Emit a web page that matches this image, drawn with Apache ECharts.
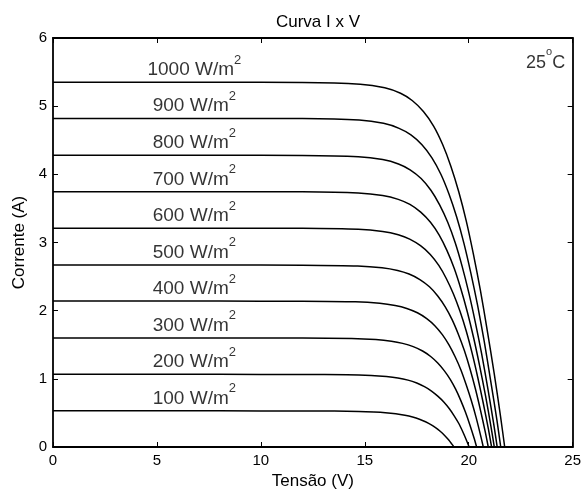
<!DOCTYPE html>
<html><head><meta charset="utf-8">
<script src="https://cdn.jsdelivr.net/npm/echarts@6/dist/echarts.min.js"></script>
<style>html,body{margin:0;padding:0;background:#fff}#chart{width:584px;height:497px}</style>
</head><body><div id="chart"></div>
<script>
// Irradiance levels (W/m^2)
const irradiance = [100, 200, 300, 400, 500, 600, 700, 800, 900, 1000];
// I-V curves: [voltage (V), current (A)]
const curve100 = [[0,0.53],[8,0.53],[12,0.529],[13.54,0.527],[14.71,0.522],[15.44,0.514],[15.99,0.504],[16.49,0.488],[16.93,0.466],[17.3,0.44],[17.63,0.408],[17.92,0.371],[18.18,0.329],[18.42,0.281],[18.64,0.228],[18.84,0.17],[19.03,0.106],[19.19,0.042],[19.29,0]];
const curve200 = [[0,1.066],[8,1.066],[12,1.064],[14.14,1.061],[15.31,1.05],[16.04,1.034],[16.59,1.013],[17.08,0.981],[17.5,0.938],[17.87,0.885],[18.21,0.821],[18.51,0.746],[18.8,0.661],[19.06,0.565],[19.3,0.458],[19.53,0.341],[19.73,0.213],[19.91,0.085],[20.02,0]];
const curve300 = [[0,1.6],[8,1.6],[12,1.598],[14.37,1.592],[15.53,1.576],[16.28,1.552],[16.82,1.52],[17.33,1.472],[17.78,1.408],[18.17,1.328],[18.51,1.232],[18.82,1.12],[19.11,0.992],[19.37,0.848],[19.61,0.688],[19.84,0.512],[20.06,0.32],[20.26,0.128],[20.38,0]];
const curve400 = [[0,2.14],[8,2.14],[12,2.138],[14.55,2.129],[15.72,2.108],[16.46,2.076],[17.02,2.033],[17.53,1.969],[17.98,1.883],[18.38,1.776],[18.73,1.648],[19.05,1.498],[19.34,1.327],[19.62,1.134],[19.87,0.92],[20.12,0.685],[20.36,0.428],[20.57,0.171],[20.7,0]];
const curve500 = [[0,2.67],[8,2.67],[12,2.668],[14.66,2.657],[15.83,2.63],[16.58,2.59],[17.13,2.537],[17.65,2.456],[18.11,2.35],[18.51,2.216],[18.87,2.056],[19.2,1.869],[19.5,1.655],[19.79,1.415],[20.06,1.148],[20.32,0.854],[20.57,0.534],[20.8,0.214],[20.94,0]];
const curve600 = [[0,3.21],[8,3.21],[12,3.208],[14.69,3.194],[15.86,3.162],[16.61,3.114],[17.16,3.05],[17.68,2.953],[18.15,2.825],[18.56,2.664],[18.92,2.472],[19.26,2.247],[19.58,1.99],[19.88,1.701],[20.16,1.38],[20.43,1.027],[20.7,0.642],[20.95,0.257],[21.1,0]];
const curve700 = [[0,3.745],[8,3.745],[12,3.743],[14.68,3.726],[15.86,3.689],[16.61,3.633],[17.17,3.558],[17.69,3.445],[18.16,3.296],[18.58,3.108],[18.95,2.884],[19.3,2.622],[19.62,2.322],[19.93,1.985],[20.23,1.61],[20.52,1.198],[20.81,0.749],[21.07,0.3],[21.23,0]];
const curve800 = [[0,4.28],[8,4.28],[12,4.278],[14.69,4.259],[15.86,4.216],[16.62,4.152],[17.18,4.066],[17.71,3.938],[18.18,3.766],[18.6,3.552],[18.99,3.296],[19.35,2.996],[19.68,2.654],[20.0,2.268],[20.31,1.84],[20.62,1.37],[20.92,0.856],[21.2,0.342],[21.37,0]];
const curve900 = [[0,4.82],[8,4.82],[12,4.818],[14.73,4.796],[15.9,4.748],[16.65,4.675],[17.22,4.579],[17.75,4.434],[18.23,4.242],[18.66,4.001],[19.05,3.711],[19.42,3.374],[19.77,2.988],[20.1,2.555],[20.43,2.073],[20.75,1.542],[21.06,0.964],[21.36,0.386],[21.54,0]];
const curve1000 = [[0,5.35],[8,5.35],[12,5.348],[14.78,5.323],[15.96,5.27],[16.72,5.19],[17.28,5.083],[17.82,4.922],[18.31,4.708],[18.74,4.441],[19.14,4.12],[19.52,3.745],[19.88,3.317],[20.22,2.836],[20.56,2.301],[20.89,1.712],[21.23,1.07],[21.54,0.428],[21.73,0]];
const curves = [curve100, curve200, curve300, curve400, curve500, curve600, curve700, curve800, curve900, curve1000];
const xTicks = [0, 5, 10, 15, 20, 25];
const yTicks = [0, 1, 2, 3, 4, 5, 6];
const temperatureText = '25';

const FONT = 'Liberation Sans, Arial, sans-serif';
const labelV = 6.8;       // horizontal anchor of the irradiance labels (V)
const labelGap = 0.23;    // labels sit this far above each curve (A)

const chart = echarts.init(document.getElementById('chart'), null, {renderer: 'canvas'});

const axisLineStyle = {color: '#000', width: 1.8};
const tickStyle = {inside: true, length: 5, lineStyle: {color: '#000', width: 1}};

const lineSeries = curves.map((c, i) => ({
  type: 'line', name: irradiance[i] + ' W/m2', data: c,
  showSymbol: false, smooth: 0.25, silent: true,
  lineStyle: {color: '#000', width: 1.5}, z: 3
}));

const labelSeries = {
  type: 'scatter', silent: true, symbolSize: 1,
  itemStyle: {color: 'rgba(0,0,0,0)'},
  data: irradiance.map((g, i) => [labelV, curves[i][0][1] + labelGap, g]),
  label: {
    show: true, position: 'inside',
    formatter: p => '{a|' + p.value[2] + ' W/m}{b|2}',
    rich: {
      a: {fontSize: 19, fontFamily: FONT, color: '#000', lineHeight: 26, verticalAlign: 'bottom'},
      b: {fontSize: 13, fontFamily: FONT, color: '#000', lineHeight: 13, verticalAlign: 'top'}
    }
  }, z: 4
};

const tempSeries = {
  type: 'scatter', silent: true, symbolSize: 1,
  itemStyle: {color: 'rgba(0,0,0,0)'},
  data: [[23.7, 5.69]],
  label: {
    show: true, position: 'inside',
    formatter: () => '{a|' + temperatureText + '}{o|o}{a|C}',
    rich: {
      a: {fontSize: 18, fontFamily: FONT, color: '#000', lineHeight: 26, verticalAlign: 'bottom'},
      o: {fontSize: 11, fontFamily: FONT, color: '#000', lineHeight: 12, verticalAlign: 'top'}
    }
  }, z: 4
};

chart.setOption({
  animation: false,
  backgroundColor: '#fff',
  title: {
    text: 'Curva I x V', left: 313, textAlign: 'center', top: 9,
    textStyle: {fontSize: 17, fontWeight: 'normal', fontFamily: FONT, color: '#000'}
  },
  grid: {left: 53, right: 11, top: 38, bottom: 50, containLabel: false},
  xAxis: [{
    type: 'value', min: xTicks[0], max: xTicks[xTicks.length - 1], interval: 5, position: 'bottom',
    name: 'Tensão (V)', nameLocation: 'middle', nameGap: 24,
    nameTextStyle: {fontSize: 17, fontFamily: FONT, color: '#000'},
    axisLine: {show: true, onZero: false, lineStyle: axisLineStyle},
    axisTick: tickStyle,
    axisLabel: {fontSize: 15, fontFamily: FONT, color: '#000', margin: 6},
    splitLine: {show: false}
  }, {
    type: 'value', min: xTicks[0], max: xTicks[xTicks.length - 1], interval: 5, position: 'top',
    axisLine: {show: true, onZero: false, lineStyle: axisLineStyle},
    axisTick: tickStyle, axisLabel: {show: false}, splitLine: {show: false}
  }],
  yAxis: [{
    type: 'value', min: yTicks[0], max: yTicks[yTicks.length - 1], interval: 1, position: 'left',
    name: 'Corrente (A)', nameLocation: 'middle', nameGap: 24,
    nameTextStyle: {fontSize: 17, fontFamily: FONT, color: '#000'},
    axisLine: {show: true, onZero: false, lineStyle: axisLineStyle},
    axisTick: tickStyle,
    axisLabel: {fontSize: 15, fontFamily: FONT, color: '#000', margin: 6},
    splitLine: {show: false}
  }, {
    type: 'value', min: yTicks[0], max: yTicks[yTicks.length - 1], interval: 1, position: 'right',
    axisLine: {show: true, onZero: false, lineStyle: axisLineStyle},
    axisTick: tickStyle, axisLabel: {show: false}, splitLine: {show: false}
  }],
  series: [...lineSeries, labelSeries, tempSeries]
});
</script></body></html>
